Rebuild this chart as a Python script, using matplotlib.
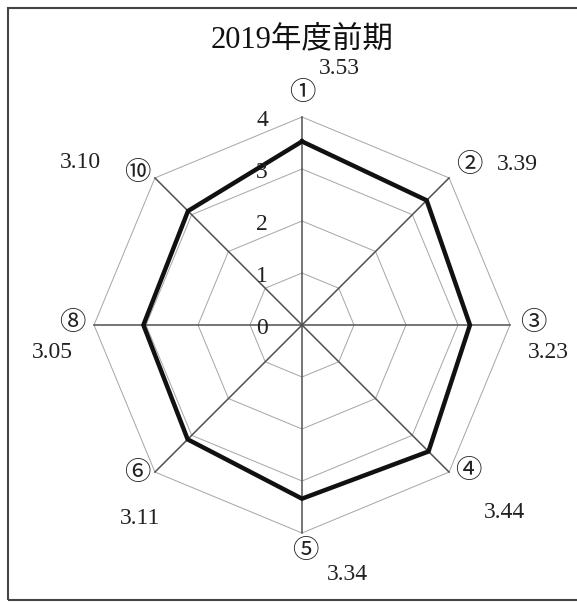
import numpy as np
import matplotlib
matplotlib.use("Agg")
import matplotlib.pyplot as plt

# data
axis_labels = ["①", "②", "③", "④", "⑤", "⑥", "⑧", "⑩"]
values = [3.53, 3.39, 3.23, 3.44, 3.34, 3.11, 3.05, 3.10]
value_text = ["3.53", "3.39", "3.23", "3.44", "3.34", "3.11", "3.05", "3.10"]
rings = [1, 2, 3, 4]
tick_labels = ["0", "1", "2", "3", "4"]
title = "2019年度前期"

fonts = ["Liberation Serif", "Noto Sans CJK JP"]

W, H = 577, 605
cx, cy = 302, 325       # centre in pixels
unit = 52.0             # pixels per value unit

fig = plt.figure(figsize=(W / 100, H / 100), dpi=100)
ax = fig.add_axes([0, 0, 1, 1])
ax.set_xlim(-cx / unit, (W - cx) / unit)
ax.set_ylim(-(H - cy) / unit, cy / unit)
ax.axis("off")

n = len(values)
ang = np.pi / 2 - np.arange(n) * 2 * np.pi / n
ux, uy = np.cos(ang), np.sin(ang)

# rings
for r in rings:
    ax.plot(np.append(ux, ux[0]) * r, np.append(uy, uy[0]) * r,
            color="#a5a5a5", lw=0.7, zorder=1)
# spokes
rmax = rings[-1]
for i in range(n):
    ax.plot([0, ux[i] * rmax], [0, uy[i] * rmax], color="#505050", lw=1.1, zorder=2)

# data line
v = np.array(values)
ax.plot(np.append(ux * v, ux[0] * v[0]), np.append(uy * v, uy[0] * v[0]),
        color="#111111", lw=3.2, solid_joinstyle="miter", zorder=3)

# tick labels, left of the vertical spoke
for k, t in enumerate(tick_labels):
    ax.text(-40 / unit, k - 3 / unit, t, fontsize=17, family=fonts,
            ha="center", va="center", color="#222222")

# axis labels (circled numbers) and value labels, offsets in pixels
lab_off = [(0, 232), (167, 160), (231, 2), (166, -145), (3, -225), (-165, -148), (-230, 2), (-165, 153)]
val_off = [(37, 256), (215, 160), (246, -27), (203, -187), (45, -250), (-162, -193), (-250, -27), (-222, 162)]
for i in range(n):
    ax.text(lab_off[i][0] / unit, lab_off[i][1] / unit, axis_labels[i], fontsize=19,
            family=["Noto Sans CJK JP"], ha="center", va="center", color="#222222")
    ax.text(val_off[i][0] / unit, val_off[i][1] / unit, value_text[i], fontsize=17,
            family=fonts, ha="center", va="center", color="#222222")

# title
fig.text(302 / W, 1 - 40 / H, title, fontsize=22, family=fonts,
         ha="center", va="center", color="#111111")

# frame
fig.add_artist(plt.Rectangle((8 / W, 5 / H), 1.2, 1 - 13 / H, transform=fig.transFigure,
                             fill=False, ec="#444444", lw=1.5))

fig.savefig("out.png", dpi=100, facecolor="white")
